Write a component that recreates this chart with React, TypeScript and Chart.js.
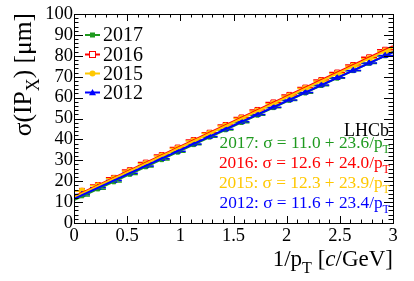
import React, { useEffect, useRef } from "react";
import { Chart, registerables } from "chart.js";

Chart.register(...registerables);

const xCenters = [0.075, 0.225, 0.375, 0.525, 0.675, 0.825, 0.975, 1.125, 1.275, 1.425, 1.575, 1.725, 1.875, 2.025, 2.175, 2.325, 2.475, 2.625, 2.775, 2.925];
const xHalfWidth = 0.075;
const yErr = 0.6;

const years = ["2017", "2016", "2015", "2012"];
const s2017 = [12.9, 16.2, 19.6, 23.2, 26.8, 30.2, 33.8, 37.4, 41.0, 44.5, 48.0, 51.5, 55.1, 58.6, 62.1, 65.7, 69.2, 72.8, 76.3, 79.9];
const s2016 = [15.4, 18.2, 21.6, 25.3, 28.9, 32.5, 36.1, 39.7, 43.2, 46.9, 50.5, 54.1, 57.7, 61.3, 64.8, 68.4, 72.0, 75.6, 79.3, 82.9];
const s2015 = [15.3, 17.8, 21.2, 24.8, 28.4, 32.0, 35.6, 39.2, 42.8, 46.4, 50.0, 53.5, 57.1, 60.7, 64.3, 67.8, 71.4, 75.0, 78.6, 82.2];
const s2012 = [13.6, 16.9, 20.3, 23.8, 27.3, 30.8, 34.3, 37.8, 41.4, 44.9, 48.4, 51.9, 55.4, 58.9, 62.5, 66.0, 69.5, 73.0, 76.5, 80.1];
const fitIntercepts = [11.0, 12.6, 12.3, 11.6];
const fitSlopes = [23.6, 24.0, 23.9, 23.4];
const fitLabels = ["11.0", "12.6", "12.3", "11.6"];
const slopeLabels = ["23.6", "24.0", "23.9", "23.4"];
const xRange = [0, 3];
const yRange = [0, 100];

const colors = ["#1f9a1f", "#ff0000", "#ffc800", "#0000ff"];
const pointStyles = ["rect", "rect", "circle", "triangle"];
const pointRadii = [2.5, 3.5, 3, 3.5];
const series = [s2017, s2016, s2015, s2012];

const SERIF = "'Liberation Serif', 'DejaVu Serif', serif";

type Part = { t: string; sub?: boolean; italic?: boolean };

function richWidth(ctx: CanvasRenderingContext2D, parts: Part[], size: number) {
  let w = 0;
  for (const p of parts) {
    ctx.font = `${p.italic ? "italic " : ""}${p.sub ? size * 0.7 : size}px ${SERIF}`;
    w += ctx.measureText(p.t).width;
  }
  return w;
}

function drawRich(ctx: CanvasRenderingContext2D, parts: Part[], x: number, y: number, size: number, color: string, align: "left" | "right") {
  const w = richWidth(ctx, parts, size);
  let cx = align === "right" ? x - w : x;
  ctx.fillStyle = color;
  ctx.textAlign = "left";
  ctx.textBaseline = "alphabetic";
  for (const p of parts) {
    const s = p.sub ? size * 0.7 : size;
    ctx.font = `${p.italic ? "italic " : ""}${s}px ${SERIF}`;
    ctx.fillText(p.t, cx, p.sub ? y + size * 0.3 : y);
    cx += ctx.measureText(p.t).width;
  }
}

const rootPlugin = {
  id: "rootStyle",
  beforeDatasetsDraw(chart: any) {
    const ctx = chart.ctx as CanvasRenderingContext2D;
    const xs = chart.scales.x;
    const ys = chart.scales.y;
    ctx.save();
    ctx.lineWidth = 1.5;
    series.forEach((vals, si) => {
      ctx.strokeStyle = colors[si];
      vals.forEach((v, i) => {
        const px1 = xs.getPixelForValue(xCenters[i] - xHalfWidth);
        const px2 = xs.getPixelForValue(xCenters[i] + xHalfWidth);
        const py = ys.getPixelForValue(v);
        const px = xs.getPixelForValue(xCenters[i]);
        ctx.beginPath();
        ctx.moveTo(px1, py);
        ctx.lineTo(px2, py);
        ctx.moveTo(px, ys.getPixelForValue(v - yErr));
        ctx.lineTo(px, ys.getPixelForValue(v + yErr));
        ctx.stroke();
      });
    });
    ctx.restore();
  },
  afterDraw(chart: any) {
    const ctx = chart.ctx as CanvasRenderingContext2D;
    const a = chart.chartArea;
    const xs = chart.scales.x;
    const ys = chart.scales.y;
    ctx.save();
    // frame
    ctx.strokeStyle = "#000";
    ctx.lineWidth = 1;
    ctx.strokeRect(Math.round(a.left) + 0.5, Math.round(a.top) + 0.5, Math.round(a.right - a.left), Math.round(a.bottom - a.top));
    // x ticks
    ctx.beginPath();
    for (let k = 0; k <= 30; k++) {
      const v = k * 0.1;
      const px = Math.round(xs.getPixelForValue(v)) + 0.5;
      const len = k % 5 === 0 ? 7 : 3.5;
      ctx.moveTo(px, a.bottom);
      ctx.lineTo(px, a.bottom - len);
      ctx.moveTo(px, a.top);
      ctx.lineTo(px, a.top + len);
    }
    // y ticks
    for (let k = 0; k <= 50; k++) {
      const v = k * 2;
      const py = Math.round(ys.getPixelForValue(v)) + 0.5;
      const len = k % 5 === 0 ? 9 : 4.5;
      ctx.moveTo(a.left, py);
      ctx.lineTo(a.left + len, py);
      ctx.moveTo(a.right, py);
      ctx.lineTo(a.right - len, py);
    }
    ctx.stroke();

    // axis titles
    drawRich(ctx, [{ t: "1/p" }, { t: "T", sub: true }, { t: " [" }, { t: "c", italic: true }, { t: "/GeV]" }], a.right, 266, 23, "#000", "right");
    ctx.save();
    ctx.translate(31, a.top - 1);
    ctx.rotate(-Math.PI / 2);
    drawRich(ctx, [{ t: "σ(IP" }, { t: "X", sub: true }, { t: ") [μm]" }], 0, 0, 25.5, "#000", "right");
    ctx.restore();

    // legend
    const legY = [35, 54.5, 73.5, 92.5];
    years.forEach((yr, i) => {
      const cy = legY[i];
      ctx.strokeStyle = colors[i];
      ctx.lineWidth = 2;
      ctx.beginPath();
      ctx.moveTo(85, cy);
      ctx.lineTo(100, cy);
      ctx.stroke();
      drawMarker(ctx, i, 92.5, cy);
      ctx.font = `20px ${SERIF}`;
      ctx.fillStyle = "#000";
      ctx.textAlign = "left";
      ctx.textBaseline = "middle";
      ctx.fillText(yr, 103, cy + 1);
    });

    // LHCb
    drawRich(ctx, [{ t: "LHCb" }], 389, 136, 18, "#000", "right");
    const fitY = [150, 170, 190, 210];
    years.forEach((yr, i) => {
      drawRich(
        ctx,
        [{ t: `${yr}: σ = ${fitLabels[i]} + ${slopeLabels[i]}/p` }, { t: "T", sub: true }],
        390,
        fitY[i] - 2,
        17.3,
        colors[i],
        "right"
      );
    });
    ctx.restore();
  },
};

function drawMarker(ctx: CanvasRenderingContext2D, i: number, x: number, y: number) {
  ctx.save();
  ctx.fillStyle = colors[i];
  ctx.strokeStyle = colors[i];
  ctx.lineWidth = 1;
  const r = pointRadii[i];
  if (i === 0) {
    ctx.fillRect(x - r, y - r, 2 * r, 2 * r);
  } else if (i === 1) {
    ctx.fillStyle = "#fff";
    ctx.fillRect(x - r, y - r, 2 * r, 2 * r);
    ctx.strokeRect(x - r + 0.5, y - r + 0.5, 2 * r - 1, 2 * r - 1);
  } else if (i === 2) {
    ctx.beginPath();
    ctx.arc(x, y, r, 0, Math.PI * 2);
    ctx.fill();
  } else {
    ctx.beginPath();
    ctx.moveTo(x, y - r);
    ctx.lineTo(x + r, y + r * 0.8);
    ctx.lineTo(x - r, y + r * 0.8);
    ctx.closePath();
    ctx.fill();
  }
  ctx.restore();
}

export default function App() {
  const ref = useRef<HTMLCanvasElement>(null);
  useEffect(() => {
    if (!ref.current) return;
    const pointDatasets = series.map((vals, i) => ({
      type: "scatter" as const,
      label: years[i],
      data: vals.map((v, k) => ({ x: xCenters[k], y: v })),
      pointStyle: pointStyles[i],
      pointRadius: pointRadii[i],
      backgroundColor: i === 1 ? "rgba(255,255,255,0.6)" : colors[i],
      borderColor: colors[i],
      borderWidth: 1,
      showLine: false,
      order: 8 - i,
    }));
    const fitDatasets = years.map((yr, i) => ({
      type: "line" as const,
      label: `fit ${yr}`,
      data: xRange.map((x) => ({ x, y: fitIntercepts[i] + fitSlopes[i] * x })),
      borderColor: colors[i],
      borderWidth: 2,
      pointRadius: 0,
      fill: false,
      order: 4 - i,
    }));
    const chart = new Chart(ref.current, {
      type: "scatter",
      data: { datasets: [...pointDatasets, ...fitDatasets] as any },
      options: {
        responsive: false,
        animation: false,
        layout: { padding: { top: 14, right: 21, left: 0, bottom: 0 } },
        plugins: { legend: { display: false }, tooltip: { enabled: false } },
        scales: {
          x: {
            type: "linear",
            min: xRange[0],
            max: xRange[1],
            grid: { display: false, drawTicks: false },
            border: { display: false },
            ticks: {
              stepSize: 0.5,
              color: "#000",
              font: { family: SERIF, size: 18.5 },
              padding: 2,
              maxRotation: 0,
              autoSkip: false,
              callback: (v: any) => String(Math.round(Number(v) * 10) / 10),
            },
            afterFit: (s: any) => {
              s.height = 58;
            },
          },
          y: {
            type: "linear",
            min: yRange[0],
            max: yRange[1],
            grid: { display: false, drawTicks: false },
            border: { display: false },
            ticks: {
              stepSize: 10,
              color: "#000",
              font: { family: SERIF, size: 18.5 },
              padding: 1,
              autoSkip: false,
            },
            afterFit: (s: any) => {
              s.width = 74;
            },
          },
        },
      },
      plugins: [rootPlugin],
    });
    return () => chart.destroy();
  }, []);
  return (
    <div style={{ position: "fixed", left: 0, top: 0, width: 414, height: 281, background: "#fff" }}>
      <canvas ref={ref} width={414} height={281} />
    </div>
  );
}
